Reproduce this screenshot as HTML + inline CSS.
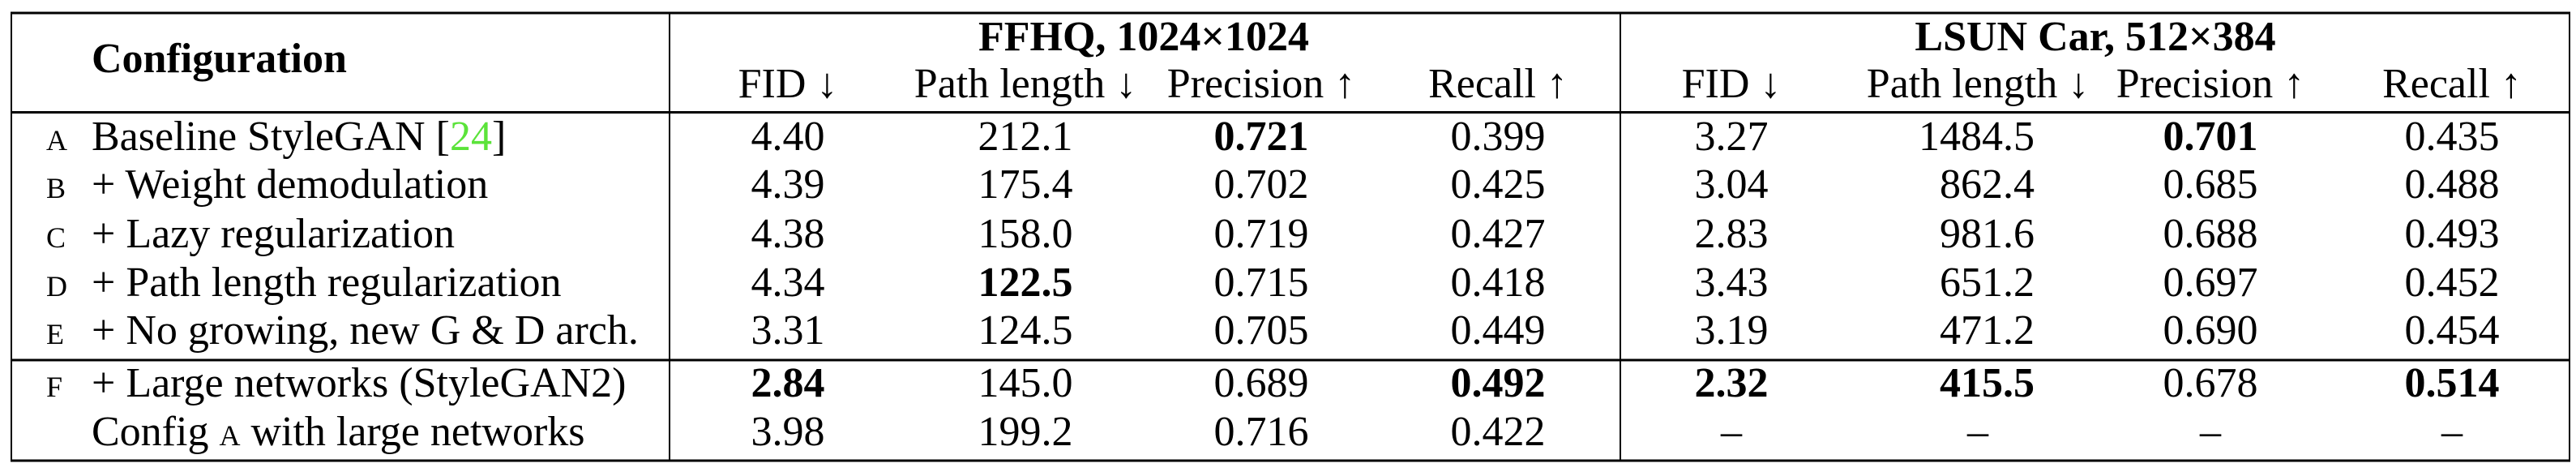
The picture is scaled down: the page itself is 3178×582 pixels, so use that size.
<!DOCTYPE html>
<html><head><meta charset="utf-8">
<style>
html,body{margin:0;padding:0;background:#fff;}
svg{display:block;}
text{font-family:"Liberation Serif","Times New Roman",serif;font-size:52px;fill:#000;}
.b{font-weight:bold;}
.sc{font-size:36px;}
</style></head>
<body>
<svg width="3178" height="582" viewBox="0 0 3178 582">
<g stroke="#000" fill="none">
<line x1="13" y1="16" x2="3171" y2="16" stroke-width="3"/>
<line x1="13" y1="138.5" x2="3171" y2="138.5" stroke-width="3"/>
<line x1="13" y1="444" x2="3171" y2="444" stroke-width="3"/>
<line x1="13" y1="568" x2="3171" y2="568" stroke-width="3"/>
<line x1="14" y1="15" x2="14" y2="569" stroke-width="2"/>
<line x1="3170" y1="15" x2="3170" y2="569" stroke-width="2"/>
<line x1="826" y1="15" x2="826" y2="569" stroke-width="2"/>
<line x1="1999" y1="15" x2="1999" y2="569" stroke-width="2"/>
</g>
<text x="113" y="89" class="b">Configuration</text>
<text x="1411" y="62" class="b" text-anchor="middle">FFHQ, 1024×1024</text>
<text x="2585" y="62" class="b" text-anchor="middle">LSUN Car, 512×384</text>
<g id="sub"></g>
<g id="body"></g>
</svg>
<script>
const NS='http://www.w3.org/2000/svg';
const letters=['A','B','C','D','E','F',''];
const configs=['Baseline StyleGAN [24]','+ Weight demodulation','+ Lazy regularization','+ Path length regularization','+ No growing, new G & D arch.','+ Large networks (StyleGAN2)','Config A with large networks'];
const ffhqFid=['4.40','4.39','4.38','4.34','3.31','2.84','3.98'];
const ffhqPath=['212.1','175.4','158.0','122.5','124.5','145.0','199.2'];
const ffhqPrec=['0.721','0.702','0.719','0.715','0.705','0.689','0.716'];
const ffhqRec=['0.399','0.425','0.427','0.418','0.449','0.492','0.422'];
const lsunFid=['3.27','3.04','2.83','3.43','3.19','2.32','–'];
const lsunPath=['1484.5','862.4','981.6','651.2','471.2','415.5','–'];
const lsunPrec=['0.701','0.685','0.688','0.697','0.690','0.678','–'];
const lsunRec=['0.435','0.488','0.493','0.452','0.454','0.514','–'];
const boldCells=['ffhqPrec-0','ffhqPath-3','ffhqFid-5','ffhqRec-5','lsunPrec-0','lsunFid-5','lsunPath-5','lsunRec-5'];
const metricNames=['FID ↓','Path length ↓','Precision ↑','Recall ↑'];
const rowBase=[185,244,305,365,424,489,549];
const cols=[
 {k:'ffhqFid',d:ffhqFid,x:972,a:'middle'},
 {k:'ffhqPath',d:ffhqPath,x:1265,a:'middle'},
 {k:'ffhqPrec',d:ffhqPrec,x:1556,a:'middle'},
 {k:'ffhqRec',d:ffhqRec,x:1848,a:'middle'},
 {k:'lsunFid',d:lsunFid,x:2136,a:'middle'},
 {k:'lsunPath',d:lsunPath,x:2510,a:'end',cx:2440},
 {k:'lsunPrec',d:lsunPrec,x:2727,a:'middle'},
 {k:'lsunRec',d:lsunRec,x:3025,a:'middle'}
];
function txt(p,x,y,s,anchor,cls){const t=document.createElementNS(NS,'text');t.setAttribute('x',x);t.setAttribute('y',y);if(anchor)t.setAttribute('text-anchor',anchor);if(cls)t.setAttribute('class',cls);t.textContent=s;p.appendChild(t);return t;}
const sub=document.getElementById('sub');
cols.forEach((c,i)=>{
 const t=txt(sub,(c.cx||c.x),120,metricNames[i%4],'middle','');
 
 
});
const body=document.getElementById('body');
configs.forEach((cfg,r)=>{
 const y=rowBase[r];
 if(letters[r]){const l=txt(body,57,y,letters[r],'','sc');
  
  }
 const t=document.createElementNS(NS,'text');t.setAttribute('x',113);t.setAttribute('y',y);
 if(r===0){t.innerHTML='Baseline StyleGAN [<tspan fill="#5be33a">24</tspan>]';}
 else if(r===6){t.innerHTML='Config <tspan style="font-size:36px">A</tspan> with large networks';}
 else t.textContent=cfg;
 
 
 body.appendChild(t);
 cols.forEach(c=>{
  const v=c.d[r];const isDash=v==='–';
  const x=isDash&&c.cx?c.cx:c.x;const a=isDash?'middle':c.a;
  const cell=txt(body,x,y,v,a,boldCells.includes(c.k+'-'+r)?'b':'');
  
  
 });
});
</script>
</body></html>
